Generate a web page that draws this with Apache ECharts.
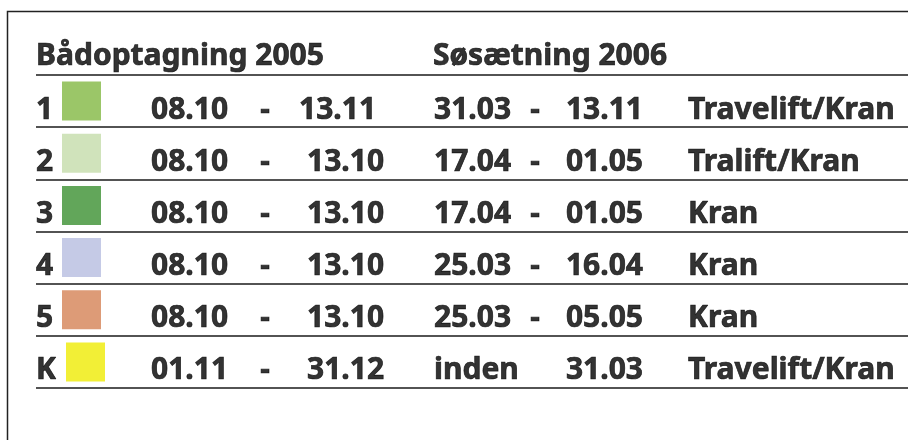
<!DOCTYPE html>
<html>
<head>
<meta charset="utf-8">
<script src="https://cdn.jsdelivr.net/npm/echarts@6/dist/echarts.min.js"></script>
<style>
  html, body { margin: 0; padding: 0; background: #fff; }
  #chart { width: 908px; height: 440px; }
</style>
</head>
<body>
<div id="chart"></div>
<script>
// tabeldata
var headers = ['Bådoptagning 2005', 'Søsætning 2006'];
var rowKeys = ['1', '2', '3', '4', '5', 'K'];
var swatchColors = ['#9bc668', '#d0e3bb', '#62a65a', '#c5cae6', '#dd9b77', '#f2ef36'];
var optagFrom = ['08.10', '08.10', '08.10', '08.10', '08.10', '01.11'];
var optagTo = ['13.11', '13.10', '13.10', '13.10', '13.10', '31.12'];
var saetFrom = ['31.03', '17.04', '17.04', '25.03', '25.03', 'inden'];
var saetDash = ['-', '-', '-', '-', '-', ''];
var saetTo = ['13.11', '01.05', '01.05', '16.04', '05.05', '31.03'];
var method = ['Travelift/Kran', 'Tralift/Kran', 'Kran', 'Kran', 'Kran', 'Travelift/Kran'];

var chart = echarts.init(document.getElementById('chart'));

var FONT = '"Noto Sans", "Open Sans", sans-serif';
var TXT_DY = 9;

function labelStyle(align, dy) {
  return {
    show: true,
    position: 'inside',
    align: align,
    verticalAlign: 'middle',
    offset: [0, dy],
    formatter: '{b}',
    fontFamily: FONT,
    fontWeight: 'bold',
    fontSize: 30,
    color: '#000',
    textBorderColor: '#000',
    textBorderWidth: 0.7
  };
}

// kolonner: x-position (akse-enheder) og justering
function textCol(x, align, values) {
  return {
    type: 'scatter',
    clip: false,
    symbolSize: 0,
    silent: true,
    data: values.map(function (v, i) {
      var xx = typeof x === 'function' ? x(i) : x;
      return { value: [xx, i + 1.5], name: v };
    }),
    label: labelStyle(align, TXT_DY)
  };
}

var headerSeries = {
  type: 'scatter',
  clip: false,
  symbolSize: 0,
  silent: true,
  data: [
    { value: [36, 0.5], name: headers[0] },
    { value: [433, 0.5], name: headers[1] }
  ],
  label: labelStyle('left', 8)
};

var swatchSeries = {
  type: 'scatter',
  clip: false,
  symbol: 'rect',
  symbolSize: 39,
  silent: true,
  itemStyle: { opacity: 1 },
  data: swatchColors.map(function (c, i) {
    return {
      value: [rowKeys[i] === 'K' ? 85.5 : 81.5, i + 1.5],
      itemStyle: { color: c, opacity: 1 }
    };
  })
};

var option = {
  animation: false,
  backgroundColor: '#fff',
  graphic: [{
    type: 'rect',
    shape: { x: 7.5, y: 11.5, width: 1000, height: 1000 },
    style: { fill: 'none', stroke: '#222', lineWidth: 1.5 },
    silent: true,
    z: -1
  }],
  grid: { left: 36, right: 0, top: 75, bottom: 52 },
  xAxis: {
    type: 'value', min: 36, max: 908,
    axisLine: { show: false }, axisTick: { show: false },
    axisLabel: { show: false }, splitLine: { show: false }
  },
  yAxis: {
    type: 'value', inverse: true, min: 1, max: 7, interval: 1,
    axisLine: { show: false }, axisTick: { show: false },
    axisLabel: { show: false },
    splitLine: { show: true, lineStyle: { color: '#1a1a1a', width: 1.6 } }
  },
  series: [
    headerSeries,
    swatchSeries,
    textCol(36, 'left', rowKeys),
    textCol(151, 'left', optagFrom),
    textCol(265, 'center', optagFrom.map(function () { return '-'; })),
    textCol(function (i) { return i === 0 ? 299 : 307; }, 'left', optagTo),
    textCol(434, 'left', saetFrom),
    textCol(535, 'center', saetDash),
    textCol(643, 'right', saetTo),
    textCol(688, 'left', method)
  ]
};

chart.setOption(option);
</script>
</body>
</html>
